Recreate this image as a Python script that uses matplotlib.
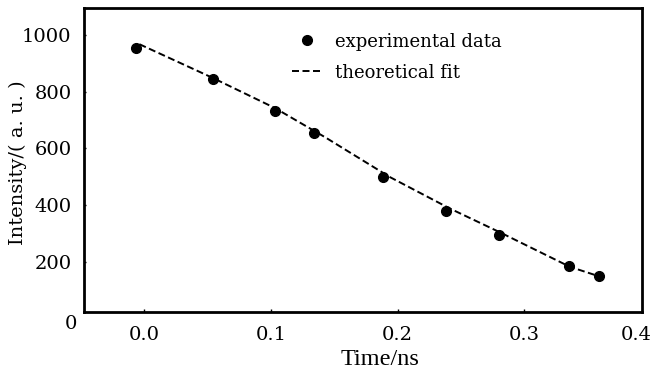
import numpy as np
import matplotlib
matplotlib.use("Agg")
import matplotlib.pyplot as plt

# experimental points
t_exp = [-0.007, 0.054, 0.103, 0.134, 0.188, 0.238, 0.280, 0.335, 0.359]
i_exp = [953, 845, 733, 653, 500, 379, 294, 185, 151]

# theoretical fit curve, traced
t_fit = [-0.004, 0.054, 0.103, 0.143, 0.194, 0.241, 0.281, 0.336, 0.360]
i_fit = [967, 848, 742, 638, 498, 388, 303, 182, 147]

xticks = [0.0, 0.1, 0.2, 0.3]
xticklabels = ["0.0", "0.1", "0.2", "0.3"]
yticks = [200, 400, 600, 800, 1000]

serif = "DejaVu Serif"
times = "Liberation Serif"

fig = plt.figure(figsize=(6.53, 3.71), dpi=100)
ax = fig.add_axes([0.1286, 0.1598, 0.8541, 0.8173])

ax.plot(t_fit, i_fit, color="black", lw=1.4, ls=(0, (3.6, 1.8)), label="theoretical fit")
ax.plot(t_exp, i_exp, "o", color="black", ms=7, label="experimental data")

ax.set_xlim(-0.0478, 0.3927)
ax.set_ylim(23.6, 1093)

ax.set_xticks(xticks)
ax.set_xticklabels(xticklabels, fontfamily=serif, fontsize=14)
ax.set_yticks(yticks)
ax.set_yticklabels([str(v) for v in yticks], fontfamily=serif, fontsize=14)
ax.tick_params(axis="x", direction="in", length=2.5, width=1, pad=10)
ax.tick_params(axis="y", direction="in", length=1.5, width=1, pad=9)

for s in ax.spines.values():
    s.set_linewidth(2)

# the stray labels outside the axes box
ax.annotate("0", xy=(0, 0), xycoords=ax.get_yaxis_transform(), xytext=(-5, -4),
            textcoords="offset points", ha="right", va="center",
            fontfamily=serif, fontsize=14, annotation_clip=False)
ax.annotate("0.4", xy=(0.388, 0), xycoords=ax.get_xaxis_transform(), xytext=(0, -10),
            textcoords="offset points", ha="center", va="top",
            fontfamily=serif, fontsize=14, annotation_clip=False)

ax.set_xlabel("Time/ns", fontfamily=times, fontsize=17.5)
ax.xaxis.set_label_coords(0.531, -0.122)
ax.set_ylabel("Intensity/( a. u. )", fontfamily=serif, fontsize=14)
ax.yaxis.set_label_coords(-0.103, 0.49)

h, l = ax.get_legend_handles_labels()
ax.legend(h[::-1], l[::-1], loc="upper left", bbox_to_anchor=(0.373, 0.92),
          frameon=False, borderpad=0, borderaxespad=0, handlelength=1.7,
          handletextpad=0.7, labelspacing=0.72,
          prop={"family": serif, "size": 13})

fig.savefig("out.png", dpi=100)
